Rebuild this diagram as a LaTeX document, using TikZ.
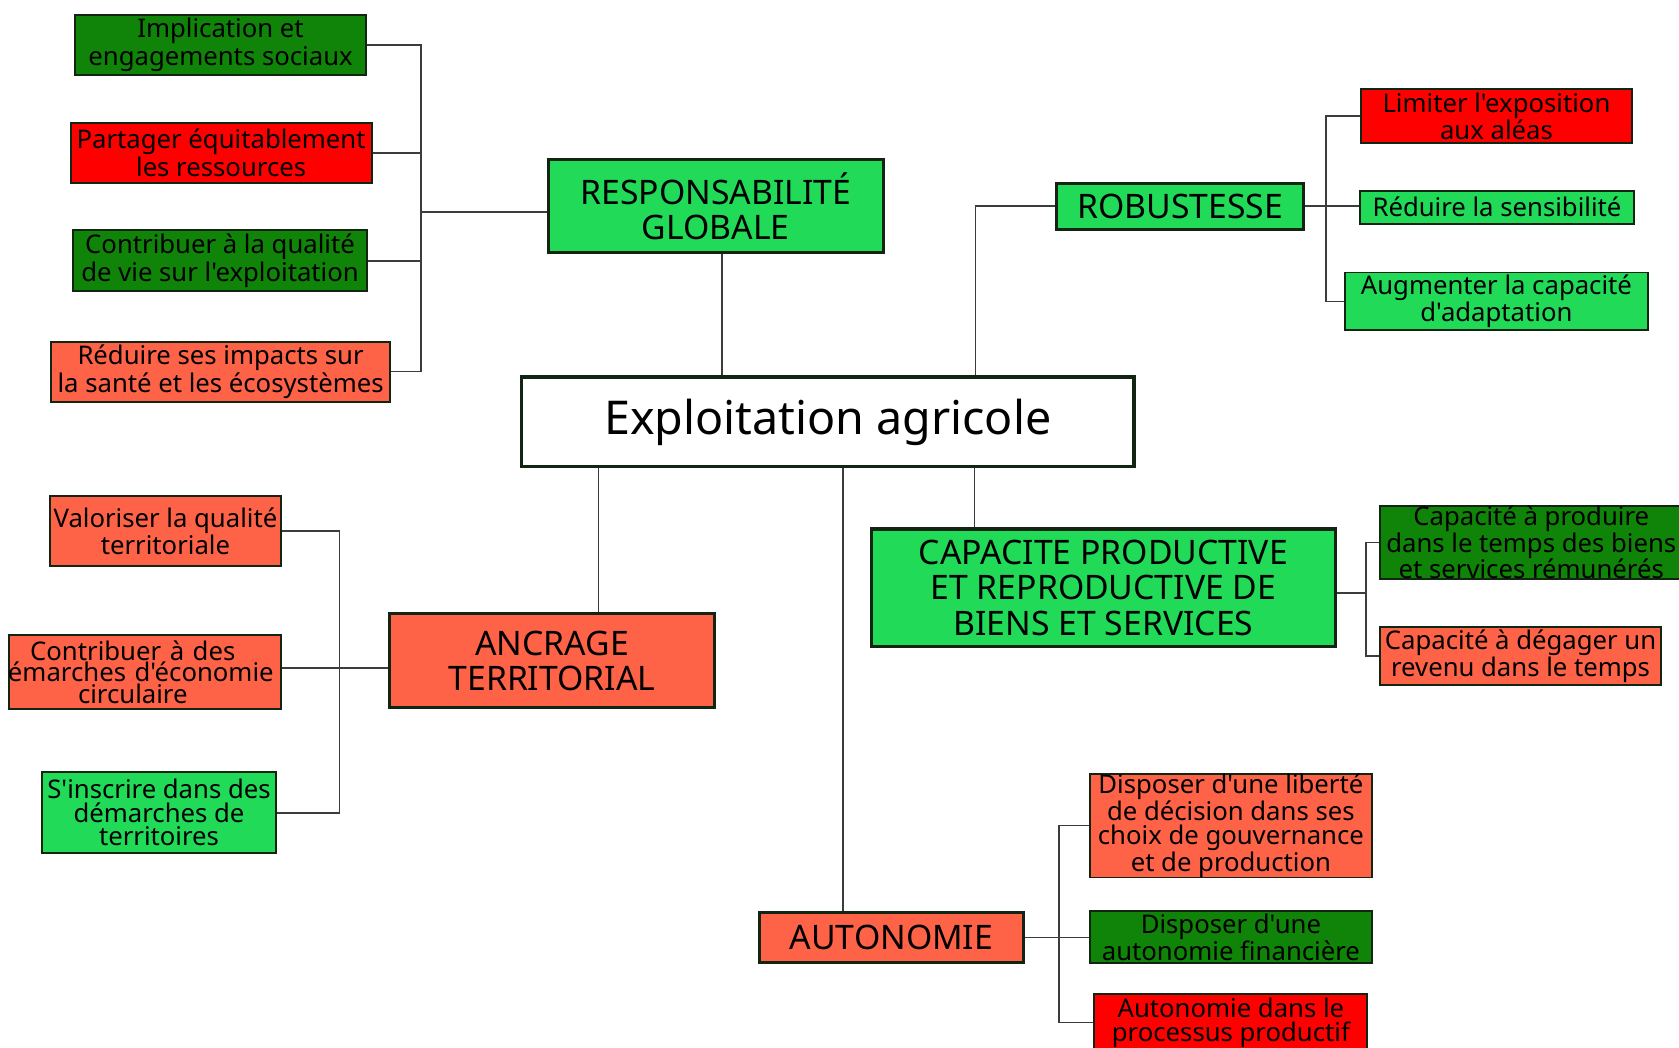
\documentclass[tikz,border=0pt]{standalone}
\usepackage{fontspec}
\setmainfont{Noto Sans}[Ligatures=TeXOff]
\definecolor{bgreen}{RGB}{33,218,88}
\definecolor{dgreen}{RGB}{16,132,8}
\definecolor{tomatoc}{RGB}{255,99,71}
\definecolor{redc}{RGB}{255,0,0}
\definecolor{bordc}{RGB}{18,36,18}
\definecolor{linec}{RGB}{60,60,60}
\tikzset{
  base/.style={draw=bordc, align=center, inner sep=0pt, text=black},
  fs/.style={font=\fontsize{24}{#1}\selectfont},
  sub/.style={base, fs=23, line width=1.8pt},
  head/.style={base, line width=3pt, font=\fontsize{31.5}{33}\selectfont},
  link/.style={draw=linec, line width=1.6pt},
}
\begin{document}
\begin{tikzpicture}[x=1pt, y=-1pt]
\useasboundingbox (0,0) rectangle (1568,978);
\clip (0,0) rectangle (1568,978);

% central node
\node[base, line width=3pt, fill=white, minimum width=572, minimum height=84,
      font=\fontsize{43.5}{45}\selectfont] (expl) at (773,394) {Exploitation agricole};

% RESPONSABILITE GLOBALE branch
\node[head, fill=bgreen, minimum width=313, minimum height=87] (rg) at (668.5,192.5) {RESPONSABILITÉ\\GLOBALE};
\node[sub, fs=26, fill=dgreen, minimum width=272, minimum height=56] (impl) at (206,42) {Implication et\\engagements sociaux};
\node[sub, fs=26, fill=redc, minimum width=281, minimum height=56] (part) at (206.5,143) {Partager équitablement\\les ressources};
\node[sub, fs=26, fill=dgreen, minimum width=275, minimum height=57] (qual) at (205.5,243.5) {Contribuer à la qualité\\de vie sur l'exploitation};
\node[sub, fs=26, fill=tomatoc, minimum width=316, minimum height=56] (impa) at (206,347) {Réduire ses impacts sur\\la santé et les écosystèmes};

% ROBUSTESSE branch
\node[head, fill=bgreen, minimum width=230, minimum height=43] (rob) at (1102,192.5) {ROBUSTESSE};
\node[sub, fill=redc, minimum width=253, minimum height=50] (lim) at (1397.5,108.5) {Limiter l'exposition\\aux aléas};
\node[sub, fill=bgreen, minimum width=256, minimum height=31] (sens) at (1398,193.5) {Réduire la sensibilité};
\node[sub, fill=bgreen, minimum width=283, minimum height=54] (adap) at (1397.5,281.5) {Augmenter la capacité\\d'adaptation};

% CAPACITE PRODUCTIVE branch
\node[head, fill=bgreen, minimum width=433, minimum height=110] (cap) at (1030.5,549) {CAPACITE PRODUCTIVE\\ET REPRODUCTIVE DE\\BIENS ET SERVICES};
\node[sub, fs=21.5, fill=dgreen, minimum width=282, minimum height=68] (prod) at (1430,506.5) {Capacité à produire\\dans le temps des biens\\et services rémunérés};
\node[sub, fs=22.5, fill=tomatoc, minimum width=262, minimum height=54] (deg) at (1420,612.5) {Capacité à dégager un\\revenu dans le temps};

% ANCRAGE TERRITORIAL branch
\node[head, fill=tomatoc, minimum width=303, minimum height=88] (anc) at (515.5,617) {ANCRAGE\\TERRITORIAL};
\node[sub, fill=tomatoc, minimum width=215, minimum height=65] (valo) at (154.5,496) {Valoriser la qualité\\territoriale};
\node[sub, fs=20, fill=tomatoc, minimum width=254, minimum height=69, text width=254] (circ) at (135,627.5)
  {\hspace*{-22pt}Contribuer à des\\\hspace*{-7pt}émarches d'économie\\\hspace*{-22pt}circulaire};
\node[sub, fs=22, fill=bgreen, minimum width=219, minimum height=76] (insc) at (148.5,759) {S'inscrire dans des\\démarches de\\territoires};

% AUTONOMIE branch
\node[head, fill=tomatoc, minimum width=247, minimum height=47] (aut) at (832.5,875.5) {AUTONOMIE};
\node[sub, fs=22.3, fill=tomatoc, minimum width=263, minimum height=97] (lib) at (1149.5,771) {Disposer d'une liberté\\de décision dans ses\\choix de gouvernance\\et de production};
\node[sub, fs=22, fill=dgreen, minimum width=263, minimum height=49] (fin) at (1149.5,875) {Disposer d'une\\autonomie financière};
\node[sub, fs=22, fill=redc, minimum width=255, minimum height=54] (proc) at (1149.5,955) {Autonomie dans le\\processus productif};

% connectors: responsabilite globale
\coordinate (rgbus) at (393,198);
\draw[link] (impl.east) -| (rgbus |- impa.east) -- (impa.east);
\draw[link] (part.east) -- (part.east -| rgbus);
\draw[link] (qual.east) -- (qual.east -| rgbus);
\draw[link] (rgbus) -- (rgbus -| rg.west);
\draw[link] ([xshift=5.5pt]rg.south) -- ([xshift=5.5pt]rg.south |- expl.north);

% connectors: robustesse
\draw[link] ([xshift=138pt]expl.north) |- (rob.west);
\coordinate (robbus) at (1238,194);
\draw[link] (lim.west) -| (robbus |- adap.west) -- (adap.west);
\draw[link] (rob.east) -- (rob.east -| sens.west);

% connectors: capacite productive
\draw[link] ([xshift=137pt]expl.south) -- ([xshift=137pt]expl.south |- cap.north);
\coordinate (capbus) at (1276,554);
\draw[link] (prod.west) -| (capbus |- deg.west) -- (deg.west);
\draw[link] (cap.east |- capbus) -- (capbus);

% connectors: ancrage territorial
\draw[link] ([xshift=-214pt]expl.south) -- ([xshift=-214pt]expl.south |- anc.north);
\coordinate (ancbus) at (317,624);
\draw[link] (valo.east) -| (ancbus |- insc.east) -- (insc.east);
\draw[link] (circ.east |- ancbus) -- (anc.west |- ancbus);

% connectors: autonomie
\draw[link] ([xshift=14pt]expl.south) -- ([xshift=14pt]expl.south |- aut.north);
\coordinate (autbus) at (989,876);
\draw[link] (lib.west) -| (autbus |- proc.west) -- (proc.west);
\draw[link] (aut.east) -- (aut.east -| fin.west);
\end{tikzpicture}
\end{document}
